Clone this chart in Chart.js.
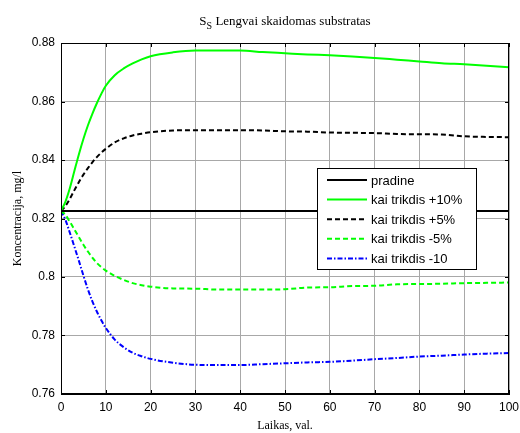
<!DOCTYPE html>
<html>
<head>
<meta charset="utf-8">
<script src="https://cdn.jsdelivr.net/npm/chart.js@4.4.1/dist/chart.umd.min.js"></script>
<style>
  html, body { margin: 0; padding: 0; background: #fff; }
  #wrap { width: 520px; height: 433px; }
</style>
</head>
<body>
<div id="wrap"><canvas id="ssChart" width="520" height="433"></canvas></div>
<script>
// laikas, val.
const time = [0, 1, 2, 3, 4, 5, 6, 7, 8, 9, 10, 12, 14, 16, 18, 20, 25, 30, 35, 40, 45, 50, 55, 60, 65, 70, 75, 80, 85, 90, 95, 100];

const pradineT = [0, 100];
const pradineY = [0.8226, 0.8226];

const plus10 = [0.8226, 0.8258, 0.8305, 0.8363, 0.8420, 0.8472, 0.8518, 0.8558, 0.8594, 0.8626, 0.8654, 0.8690, 0.8713, 0.8730, 0.8744, 0.8755, 0.8768, 0.8774, 0.8774, 0.8774, 0.8769, 0.8765, 0.8761, 0.8758, 0.8754, 0.8749, 0.8743, 0.8737, 0.8731, 0.8727, 0.8722, 0.8717];
const plus5 = [0.8226, 0.8243, 0.8268, 0.8297, 0.8325, 0.8350, 0.8372, 0.8392, 0.8410, 0.8425, 0.8438, 0.8460, 0.8474, 0.8484, 0.8490, 0.8495, 0.8501, 0.8502, 0.8502, 0.8502, 0.8501, 0.8498, 0.8497, 0.8494, 0.8493, 0.8492, 0.8489, 0.8488, 0.8487, 0.8481, 0.8479, 0.8478];
const minus5 = [0.8226, 0.8212, 0.8188, 0.8162, 0.8136, 0.8110, 0.8087, 0.8066, 0.8048, 0.8034, 0.8022, 0.8004, 0.7990, 0.7979, 0.7972, 0.7967, 0.7961, 0.7960, 0.7957, 0.7957, 0.7957, 0.7958, 0.7964, 0.7965, 0.7969, 0.7970, 0.7975, 0.7976, 0.7977, 0.7979, 0.7980, 0.7981];
const minus10 = [0.8226, 0.8195, 0.8150, 0.8103, 0.8055, 0.8005, 0.7958, 0.7917, 0.7882, 0.7852, 0.7826, 0.7786, 0.7760, 0.7741, 0.7729, 0.7720, 0.7707, 0.7700, 0.7699, 0.7699, 0.7702, 0.7705, 0.7708, 0.7710, 0.7714, 0.7719, 0.7723, 0.7728, 0.7731, 0.7735, 0.7738, 0.7740];

const seriesLabels = ['pradine', 'kai trikdis +10%', 'kai trikdis +5%', 'kai trikdis -5%', 'kai trikdis -10'];
const xTicks = [0, 10, 20, 30, 40, 50, 60, 70, 80, 90, 100];
const yTicks = [0.76, 0.78, 0.8, 0.82, 0.84, 0.86, 0.88];

function pts(xs, ys) {
    return xs.map((x, i) => ({ x: x, y: ys[i] }));
}

const serif = '"Liberation Serif", "Times New Roman", serif';
const sans = '"Liberation Sans", Arial, sans-serif';

// MATLAB style: title with subscript, box, inner ticks, legend inside
const matlabPlugin = {
    id: 'matlab',
    afterDraw(chart) {
        const c = chart.ctx;
        const a = chart.chartArea;
        const xs = chart.scales.x, ys = chart.scales.y;

        c.save();
        // box
        c.strokeStyle = '#000';
        c.lineWidth = 1;
        c.strokeRect(a.left + 0.5, a.top + 0.5, a.right - a.left - 1, a.bottom - a.top - 1);

        // inner ticks
        c.beginPath();
        xTicks.forEach(v => {
            const px = Math.round(xs.getPixelForValue(v)) + 0.5;
            c.moveTo(px, a.bottom); c.lineTo(px, a.bottom - 4);
            c.moveTo(px, a.top); c.lineTo(px, a.top + 4);
        });
        yTicks.forEach(v => {
            const py = Math.round(ys.getPixelForValue(v)) + 0.5;
            c.moveTo(a.left, py); c.lineTo(a.left + 4, py);
            c.moveTo(a.right, py); c.lineTo(a.right - 4, py);
        });
        c.stroke();

        // title
        c.fillStyle = '#000';
        c.textBaseline = 'alphabetic';
        const bigF = '13px ' + serif, smallF = '10px ' + serif;
        c.font = bigF;
        const w1 = c.measureText('S').width;
        const w3 = c.measureText(' Lengvai skaidomas substratas').width;
        c.font = smallF;
        const w2 = c.measureText('S').width;
        let tx = (a.left + a.right) / 2 - (w1 + w2 + w3) / 2;
        const ty = 25;
        c.font = bigF;
        c.fillText('S', tx, ty);
        c.font = smallF;
        c.fillText('S', tx + w1, ty + 4);
        c.font = bigF;
        c.fillText(' Lengvai skaidomas substratas', tx + w1 + w2, ty);

        // legend
        const lx = 317, ly = 168, lw = 159, lh = 101;
        c.fillStyle = '#fff';
        c.fillRect(lx, ly, lw, lh);
        c.strokeStyle = '#000';
        c.lineWidth = 1;
        c.strokeRect(lx + 0.5, ly + 0.5, lw, lh);
        c.font = '13px ' + sans;
        c.textBaseline = 'middle';
        chart.data.datasets.forEach((ds, i) => {
            const ry = ly + 12 + i * 19.6;
            c.beginPath();
            c.strokeStyle = ds.borderColor;
            c.lineWidth = ds.borderWidth;
            c.setLineDash(ds.borderDash || []);
            c.moveTo(lx + 10, ry);
            c.lineTo(lx + 50, ry);
            c.stroke();
            c.setLineDash([]);
            c.fillStyle = '#000';
            c.fillText(ds.label, lx + 54, ry + 1);
        });
        c.restore();
    }
};

const ctx = document.getElementById('ssChart').getContext('2d');

const ssChart = new Chart(ctx, {
    type: 'line',
    data: {
        datasets: [
            { label: seriesLabels[0], data: pts(pradineT, pradineY), borderColor: '#000000', borderWidth: 2 },
            { label: seriesLabels[1], data: pts(time, plus10), borderColor: '#00ff00', borderWidth: 2 },
            { label: seriesLabels[2], data: pts(time, plus5), borderColor: '#000000', borderWidth: 2, borderDash: [5, 3] },
            { label: seriesLabels[3], data: pts(time, minus5), borderColor: '#00ff00', borderWidth: 2, borderDash: [5, 3] },
            { label: seriesLabels[4], data: pts(time, minus10), borderColor: '#0000ff', borderWidth: 2, borderDash: [5, 2, 1.5, 2] }
        ]
    },
    options: {
        responsive: false,
        animation: false,
        layout: { padding: { left: 0, right: 11, top: 43, bottom: 0 } },
        elements: {
            point: { radius: 0 },
            line: { cubicInterpolationMode: 'monotone', fill: false }
        },
        plugins: {
            legend: { display: false },
            tooltip: { enabled: false }
        },
        scales: {
            x: {
                type: 'linear',
                min: 0,
                max: 100,
                afterBuildTicks: s => { s.ticks = xTicks.map(v => ({ value: v })); },
                afterFit: s => { s.height = 39; s.paddingLeft = 0; s.paddingRight = 0; },
                grid: { color: '#a8a8a8', borderDash: [1, 1], drawTicks: false },
                border: { display: true, color: '#000' },
                ticks: { color: '#000', font: { family: sans, size: 12 }, padding: 6, maxRotation: 0 },
                title: { display: true, text: 'Laikas, val.', color: '#000', font: { family: serif, size: 12 }, padding: { top: 0, bottom: 0 } }
            },
            y: {
                type: 'linear',
                min: 0.76,
                max: 0.88,
                afterBuildTicks: s => { s.ticks = yTicks.map(v => ({ value: v })); },
                afterFit: s => { s.width = 61; s.paddingTop = 0; s.paddingBottom = 0; },
                grid: { color: '#a8a8a8', borderDash: [1, 1], drawTicks: false },
                border: { display: true, color: '#000' },
                ticks: {
                    color: '#000',
                    font: { family: sans, size: 12 },
                    padding: 6,
                    callback: v => String(+v.toFixed(2))
                },
                title: { display: true, text: 'Koncentracija, mg/l', color: '#000', font: { family: serif, size: 12 }, padding: { top: 11, bottom: 0 } }
            }
        }
    },
    plugins: [matlabPlugin]
});
</script>
</body>
</html>
